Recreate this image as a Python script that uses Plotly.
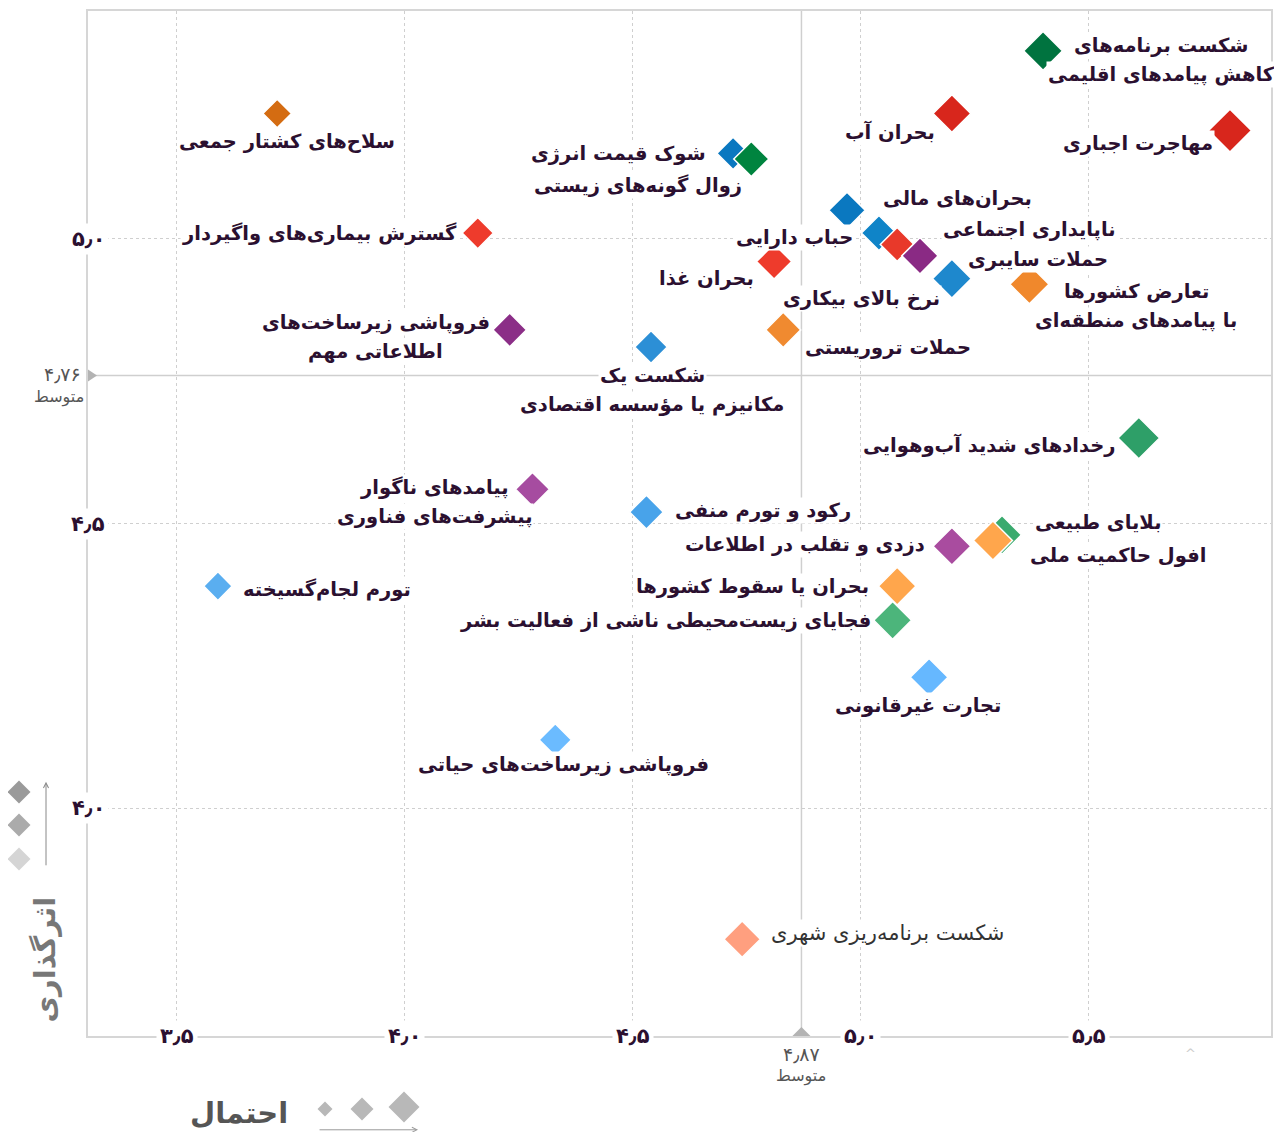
import plotly.graph_objects as go

# --- data -------------------------------------------------------------
risks = [
    "شکست برنامه‌های<br>کاهش پیامدهای اقلیمی",
    "بحران آب",
    "مهاجرت اجباری",
    "سلاح‌های کشتار جمعی",
    "شوک قیمت انرژی",
    "زوال گونه‌های زیستی",
    "بحران‌های مالی",
    "حباب دارایی",
    "ناپایداری اجتماعی",
    "حملات سایبری",
    "بحران غذا",
    "نرخ بالای بیکاری",
    "تعارض کشورها<br>با پیامدهای منطقه‌ای",
    "حملات تروریستی",
    "فروپاشی زیرساخت‌های<br>اطلاعاتی مهم",
    "شکست یک<br>مکانیزم یا مؤسسه اقتصادی",
    "گسترش بیماری‌های واگیردار",
    "رخدادهای شدید آب‌وهوایی",
    "پیامدهای ناگوار<br>پیشرفت‌های فناوری",
    "رکود و تورم منفی",
    "بلایای طبیعی",
    "افول حاکمیت ملی",
    "دزدی و تقلب در اطلاعات",
    "بحران یا سقوط کشورها",
    "فجایای زیست‌محیطی ناشی از فعالیت بشر",
    "تورم لجام‌گسیخته",
    "تجارت غیرقانونی",
    "فروپاشی زیرساخت‌های حیاتی",
    "شکست برنامه‌ریزی شهری",
]
likelihood = [5.40, 5.20, 5.81, 3.72, 4.72, 4.76, 4.97, 5.04, 5.08, 5.13,
              4.81, 5.20, 5.37, 4.83, 4.23, 4.54, 4.16, 5.61, 4.28, 4.53,
              5.31, 5.29, 5.20, 5.08, 5.07, 3.59, 5.15, 4.33, 4.74]
impact = [5.33, 5.22, 5.19, 5.22, 5.15, 5.14, 5.05, 5.01, 4.99, 4.97,
          4.96, 4.93, 4.92, 4.84, 4.84, 4.81, 5.01, 4.65, 4.56, 4.52,
          4.48, 4.47, 4.46, 4.39, 4.33, 4.39, 4.23, 4.12, 3.77]

mean_likelihood = 4.87
mean_impact = 4.76
x_ticks = [3.5, 4.0, 4.5, 5.0, 5.5]
x_tick_text = ["۳٫۵", "۴٫۰", "۴٫۵", "۵٫۰", "۵٫۵"]
y_ticks = [4.0, 4.5, 5.0]
y_tick_text = ["۴٫۰", "۴٫۵", "۵٫۰"]
mean_x_text = "۴٫۸۷"
mean_y_text = "۴٫۷۶"

# --- styles -----------------------------------------------------------
colors = ["#00733f", "#d8261c", "#d8261c", "#d46c12", "#0a78c0", "#00843f",
          "#0a78c0", "#0f84c8", "#e8392a", "#8a2a84", "#ee3b2c", "#1e88cd",
          "#f0882c", "#f08a30", "#8b2e87", "#2c8fd6", "#ee3b2c", "#2e9f68",
          "#a64ca0", "#48a3ea", "#3aaa6e", "#ffa64c", "#a94c9f", "#ffa64c",
          "#4cb57b", "#5aaef0", "#66b8ff", "#6bbbff", "#ff9f7f"]
size_px = [30, 29, 33, 22, 25, 27, 28, 27, 26, 28,
           27, 30, 30, 27, 26, 25, 24, 32, 26, 26,
           30, 30, 29, 29, 29, 22, 29, 25, 28]
# (anchor, dx, dy of first line) in pixels, relative to the marker
label_pos = [
    ("center", 118, -5), ("right", -15, 18), ("right", -15, 13), ("center", 10, 28),
    ("right", -25, 0), ("right", -7, 26), ("left", 34, -12), ("right", -24, 4),
    ("left", 44, -15), ("left", 46, 4), ("right", -18, 17), ("right", -10, 20),
    ("center", 107, 7), ("left", 20, 18), ("center", -134, -7), ("center", 1, 29),
    ("right", -19, 0), ("right", -22, 7), ("center", -98, -2), ("left", 27, -2),
    ("left", 31, -12), ("left", 35, 15), ("right", -25, -2), ("right", -26, 0),
    ("right", -20, 0), ("left", 23, 3), ("center", -11, 28), ("center", 8, 25),
    ("left", 27, -6),
]
line_gap = 29
FONT = "DejaVu Sans"
TXT = "#2b1030"
x_range = [3.305, 5.90]
y_range = [3.60, 5.40]

fig = go.Figure()

fig.add_trace(go.Scatter(
    x=likelihood, y=impact, mode="markers",
    marker=dict(symbol="diamond", size=size_px, color=colors, opacity=1,
                line=dict(color="white", width=1.5)),
    hoverinfo="skip", showlegend=False,
))

annotations = []
for i, name in enumerate(risks):
    anchor, dx, dy = label_pos[i]
    bold = i != len(risks) - 1
    for k, line in enumerate(name.split("<br>")):
        annotations.append(dict(
            x=likelihood[i], y=impact[i], xref="x", yref="y",
            text=line, showarrow=False, xanchor=anchor, yanchor="middle",
            xshift=dx, yshift=-(dy + k * line_gap),
            bgcolor="white", borderpad=1,
            font=dict(family=FONT, size=19.5 if bold else 21,
                      color=TXT if bold else "#333333",
                      weight="bold" if bold else "normal"),
        ))

# tick labels sitting on the axis lines
for v, t in zip(x_ticks, x_tick_text):
    annotations.append(dict(x=v, y=0, xref="x", yref="paper", text=t, showarrow=False,
                            xanchor="center", yanchor="middle", bgcolor="white", borderpad=3,
                            font=dict(family=FONT, size=21, color=TXT, weight="bold")))
for v, t in zip(y_ticks, y_tick_text):
    annotations.append(dict(x=0, y=v, xref="paper", yref="y", text=t, showarrow=False,
                            xanchor="center", yanchor="middle", bgcolor="white", borderpad=3,
                            font=dict(family=FONT, size=21, color=TXT, weight="bold")))

# averages
grey = "#555555"
annotations += [
    dict(x=mean_likelihood, y=0, xref="x", yref="paper", text=mean_x_text, showarrow=False,
         xanchor="center", yanchor="middle", yshift=-18,
         font=dict(family=FONT, size=19, color=grey)),
    dict(x=mean_likelihood, y=0, xref="x", yref="paper", text="متوسط", showarrow=False,
         xanchor="center", yanchor="middle", yshift=-40,
         font=dict(family=FONT, size=16, color=grey)),
    dict(x=0, y=mean_impact, xref="paper", yref="y", text=mean_y_text, showarrow=False,
         xanchor="right", yanchor="middle", xshift=-5, yshift=1,
         font=dict(family=FONT, size=19, color=grey)),
    dict(x=0, y=mean_impact, xref="paper", yref="y", text="متوسط", showarrow=False,
         xanchor="right", yanchor="middle", xshift=-2, yshift=-22,
         font=dict(family=FONT, size=16, color=grey)),
]

# axis titles and legend arrows
annotations += [
    dict(x=0.128, y=-0.075, xref="paper", yref="paper", text="احتمال", showarrow=False,
         xanchor="center", yanchor="middle",
         font=dict(family=FONT, size=29, color="#555555", weight="bold")),
    dict(x=-0.036, y=0.075, xref="paper", yref="paper", text="اثرگذاری", showarrow=False,
         xanchor="center", yanchor="middle", textangle=-90,
         font=dict(family=FONT, size=29, color="#777777", weight="bold")),
    dict(x=0.279, y=-0.0915, xref="paper", yref="paper", text="", showarrow=True,
         ax=-100, ay=0, arrowhead=5, arrowwidth=1, arrowcolor="#9a9a9a"),
    dict(x=-0.0355, y=0.248, xref="paper", yref="paper", text="", showarrow=True,
         ax=0, ay=85, arrowhead=5, arrowwidth=1, arrowcolor="#888888"),
    dict(x=0.932, y=-0.017, xref="paper", yref="paper", text="^", showarrow=False,
         xanchor="center", yanchor="middle",
         font=dict(family=FONT, size=13, color="#cccccc")),
]


def diamond(cx, cy, w):
    h = w / 2
    return f"M {cx - h} {cy} L {cx} {cy + h} L {cx + h} {cy} L {cx} {cy - h} Z"


shapes = [
    dict(type="line", xref="x", yref="paper", x0=mean_likelihood, x1=mean_likelihood,
         y0=0, y1=1, line=dict(color="#cfcfcf", width=1.5), layer="below"),
    dict(type="line", xref="paper", yref="y", x0=0, x1=1, y0=mean_impact, y1=mean_impact,
         line=dict(color="#cfcfcf", width=1.5), layer="below"),
    # average markers
    dict(type="path", xref="x", yref="paper", xsizemode="pixel", ysizemode="pixel",
         xanchor=mean_likelihood, yanchor=0, path="M -9 0 L 9 0 L 0 9 Z",
         fillcolor="#b3b3b3", line=dict(width=0), layer="above"),
    dict(type="path", xref="paper", yref="y", xsizemode="pixel", ysizemode="pixel",
         xanchor=0, yanchor=mean_impact, path="M 0 -6 L 0 6 L 9 0 Z",
         fillcolor="#b3b3b3", line=dict(width=0), layer="above"),
]
# size legend (likelihood) and shade legend (impact)
for cx, cy, w in [(237, -73, 15), (274, -73, 23), (316, -71, 31)]:
    shapes.append(dict(type="path", xref="paper", yref="paper", xsizemode="pixel",
                       ysizemode="pixel", xanchor=0, yanchor=0, path=diamond(cx, cy, w),
                       fillcolor="#b8b8b8", line=dict(width=0)))
for cy, c in [(244, "#9a9a9a"), (211, "#ababab"), (177, "#d5d5d5")]:
    shapes.append(dict(type="path", xref="paper", yref="paper", xsizemode="pixel",
                       ysizemode="pixel", xanchor=0, yanchor=0, path=diamond(-69, cy, 23),
                       fillcolor=c, line=dict(width=0)))

axis_style = dict(showgrid=True, gridcolor="#cfcfcf", griddash="dot", gridwidth=1,
                  showline=True, mirror=True, linecolor="#d6d6d6", linewidth=2,
                  showticklabels=False, ticks="", zeroline=False)

fig.update_layout(
    width=1266, height=1124,
    margin=dict(l=80, r=2, t=1, b=96),
    paper_bgcolor="white", plot_bgcolor="white",
    xaxis=dict(range=x_range, tickvals=x_ticks, **axis_style),
    yaxis=dict(range=y_range, tickvals=y_ticks, **axis_style),
    annotations=annotations,
    shapes=shapes,
    font=dict(family=FONT),
)

fig.write_html("out.html")
